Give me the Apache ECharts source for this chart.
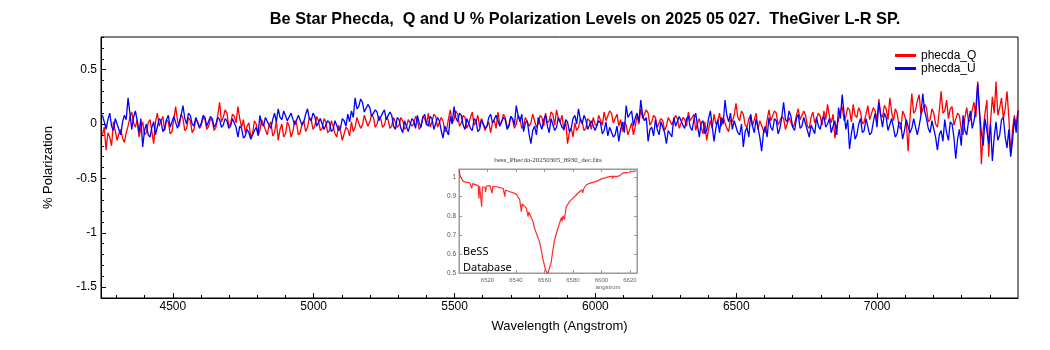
<!DOCTYPE html>
<html>
<head>
<meta charset="utf-8">
<script src="https://cdn.jsdelivr.net/npm/echarts@6/dist/echarts.min.js"></script>
<style>html,body{margin:0;padding:0;background:#fff}#c{width:1050px;height:350px}</style>
</head>
<body>
<div id="c"></div>
<script>
// ---- main data: Q and U polarization (%), uniform wavelength grid ----
const lambdaStart = 4250;
const lambdaStep = 6.5;
const phecdaQ = [
-0.10,-0.03,-0.24,-0.08,-0.12,-0.20,0.02,-0.06,-0.15,-0.09,-0.05,-0.13,-0.17,-0.08,-0.02,0.06,0.11,0.01,-0.03,0.04,
-0.12,-0.04,0.02,-0.10,-0.08,0.01,0.04,-0.07,-0.18,0.02,0.10,-0.02,0.03,0.07,-0.06,0.04,0.02,-0.09,-0.07,0.05,
0.16,0.03,-0.02,0.09,0.05,-0.06,-0.04,0.06,0.03,-0.08,-0.05,0.04,0.02,-0.04,-0.01,0.06,0.04,-0.05,-0.02,0.05,
0.03,-0.06,-0.03,0.08,0.20,0.02,0.06,0.13,0.10,-0.02,0.00,0.09,0.07,0.01,0.16,0.05,-0.03,0.04,-0.08,-0.02,
0.01,-0.12,-0.09,0.03,0.00,-0.11,-0.06,0.04,0.03,-0.05,-0.10,-0.01,0.02,-0.11,-0.08,0.03,-0.15,-0.05,0.00,-0.12,
-0.09,0.02,-0.02,-0.12,-0.07,0.03,0.01,-0.10,-0.08,0.00,0.03,-0.07,-0.03,0.06,0.04,-0.05,-0.02,0.07,0.03,-0.06,
-0.04,0.05,0.02,-0.08,-0.06,0.03,-0.02,-0.09,-0.12,-0.01,-0.06,-0.15,-0.14,-0.03,-0.05,-0.11,0.02,-0.07,-0.03,0.06,
0.05,-0.04,-0.01,0.08,0.07,-0.02,0.02,0.09,0.06,-0.03,0.00,0.07,0.05,-0.03,-0.01,0.06,0.04,-0.04,-0.02,0.06,
0.05,-0.03,-0.01,0.06,0.03,-0.05,-0.03,0.04,0.05,-0.02,0.00,0.07,0.04,-0.05,-0.02,0.07,0.05,-0.01,0.10,-0.03,
0.02,0.09,0.07,-0.03,-0.04,0.06,0.03,-0.07,-0.05,0.05,0.13,0.01,0.04,0.12,0.09,-0.02,0.01,0.08,0.06,-0.04,
0.00,0.06,0.11,-0.01,0.02,0.08,-0.03,0.05,0.04,-0.06,-0.05,0.02,-0.08,0.01,0.03,-0.04,0.11,0.00,0.02,0.09,
0.06,-0.03,-0.01,0.07,0.04,-0.04,0.00,0.08,0.05,-0.04,-0.02,0.06,0.07,-0.02,0.01,0.09,0.08,-0.03,0.00,0.08,
0.06,-0.02,0.10,0.01,0.03,0.11,0.09,-0.01,0.13,0.05,0.02,0.08,-0.06,0.03,-0.18,-0.08,-0.04,-0.12,0.01,-0.06,
-0.03,0.05,0.02,-0.06,-0.04,0.05,0.03,-0.05,0.06,0.00,-0.02,0.08,0.07,-0.01,0.11,0.03,0.04,0.12,0.10,0.01,
0.05,0.09,-0.02,0.04,-0.07,0.02,-0.01,-0.10,-0.09,0.01,-0.10,-0.02,0.08,0.00,0.14,0.05,0.04,0.13,0.10,-0.01,
0.02,0.08,0.06,-0.03,-0.04,0.05,0.03,-0.06,-0.02,0.06,0.07,-0.01,0.00,0.08,0.05,-0.04,-0.03,0.06,0.04,-0.02,
0.11,0.03,0.02,0.09,-0.06,0.01,0.05,-0.03,-0.09,0.02,-0.15,-0.05,0.03,-0.04,0.09,0.00,0.02,0.10,-0.02,0.06,
0.05,-0.04,-0.07,0.04,0.02,0.08,0.19,0.06,0.03,0.12,0.09,-0.01,-0.03,0.05,0.08,-0.02,0.04,0.10,-0.05,0.03,
0.02,-0.06,-0.08,0.04,0.13,0.03,0.04,0.12,0.10,-0.01,-0.02,0.07,0.05,-0.05,-0.04,0.06,0.06,-0.03,0.00,0.08,
0.14,0.04,0.03,0.12,0.08,-0.02,-0.04,0.06,0.11,0.01,0.02,0.10,0.07,-0.01,0.12,0.04,0.18,0.07,0.01,0.09,
-0.13,-0.02,0.04,0.12,0.16,0.03,0.07,0.15,0.13,0.02,0.18,0.08,0.06,0.15,0.11,0.00,0.02,0.09,0.17,0.04,
0.05,0.15,0.12,0.03,0.23,0.09,0.06,0.17,0.14,0.04,0.24,0.11,0.03,0.14,0.10,-0.02,-0.05,0.12,0.08,0.02,
-0.25,0.05,0.28,0.10,0.12,0.21,0.27,0.09,0.08,0.18,0.15,0.02,0.04,0.14,0.10,0.00,-0.03,0.12,0.30,0.10,
0.12,0.22,0.05,0.14,0.16,-0.01,-0.02,0.10,0.08,-0.05,-0.10,0.06,0.15,0.02,0.04,0.13,0.20,0.06,0.39,0.12,
-0.37,-0.05,0.10,0.22,-0.30,0.02,0.25,0.10,0.39,0.08,0.15,0.24,0.05,0.14,0.30,0.06,-0.28,-0.05,0.08,-0.02,0.13
];
const phecdaU = [
0.08,0.02,-0.05,0.04,0.10,-0.02,-0.06,0.05,0.06,-0.05,-0.10,0.02,0.08,0.04,0.24,0.10,-0.05,0.06,0.12,0.03,
-0.08,0.05,-0.21,-0.06,0.00,-0.10,-0.12,-0.03,0.02,-0.10,-0.09,0.05,0.03,-0.07,-0.04,0.04,0.08,-0.03,-0.02,0.07,
0.06,-0.04,-0.05,0.08,0.17,0.05,0.00,0.10,0.08,0.00,-0.02,0.06,0.07,-0.03,0.01,0.08,0.06,-0.02,-0.01,0.07,
0.05,-0.03,0.00,0.06,0.04,-0.03,-0.01,0.05,0.03,-0.04,-0.02,0.05,0.04,-0.03,-0.12,-0.02,-0.04,-0.13,-0.11,-0.05,
-0.08,-0.14,-0.13,-0.06,-0.03,-0.10,0.08,0.00,-0.02,0.06,0.07,-0.01,-0.04,0.04,0.10,0.02,0.14,0.06,0.04,0.12,
0.11,0.03,0.02,0.10,0.09,-0.01,0.00,0.08,0.07,-0.01,0.02,0.09,0.14,0.05,0.03,0.10,0.07,-0.02,-0.03,0.05,
0.04,-0.05,-0.06,0.03,0.01,-0.07,-0.05,0.03,0.02,-0.06,-0.04,0.05,0.03,-0.02,0.09,0.02,0.12,0.06,0.24,0.14,
0.16,0.23,0.20,0.11,0.10,0.18,0.15,0.07,0.06,0.13,0.11,0.03,0.02,0.10,0.13,0.04,0.03,0.11,0.08,-0.02,
-0.05,0.06,0.04,-0.04,-0.08,0.03,0.02,-0.07,-0.06,0.05,0.03,-0.04,0.08,0.01,-0.03,0.06,0.09,0.00,-0.02,0.07,
0.05,-0.05,-0.04,0.06,0.03,-0.06,-0.13,-0.02,-0.02,-0.10,0.07,0.00,0.16,0.06,0.02,0.10,0.08,-0.01,-0.05,0.05,
0.04,-0.04,-0.06,0.05,0.03,-0.07,-0.05,0.04,0.05,-0.04,-0.02,0.06,0.09,0.01,0.00,0.08,0.07,-0.02,-0.03,0.06,
0.04,-0.05,-0.02,0.07,0.05,-0.01,0.17,0.08,0.02,0.09,-0.07,0.01,0.03,-0.09,-0.18,-0.06,-0.02,-0.10,0.06,0.00,
-0.05,0.04,0.08,-0.02,-0.08,0.05,0.04,-0.06,-0.03,0.06,0.06,-0.03,-0.05,0.04,0.02,-0.07,-0.04,0.05,0.08,0.00,
0.14,0.04,0.00,0.08,0.04,-0.05,-0.06,0.03,0.02,-0.06,-0.07,0.03,0.01,-0.09,-0.06,0.02,-0.11,-0.03,-0.04,-0.12,
-0.10,-0.02,-0.16,-0.05,0.02,-0.08,0.17,0.06,0.05,0.12,-0.02,0.06,0.10,0.02,0.22,0.08,0.03,0.06,-0.16,-0.05,
-0.03,-0.11,0.04,-0.05,-0.10,0.02,0.02,-0.08,-0.18,-0.06,-0.05,-0.12,0.06,-0.02,-0.03,0.07,0.08,-0.01,-0.04,0.05,
0.07,-0.03,-0.06,0.04,0.10,-0.02,-0.12,0.01,0.03,-0.09,-0.06,0.05,0.12,-0.02,-0.16,-0.04,0.04,-0.08,0.06,0.00,
0.22,0.08,0.02,0.10,-0.05,0.03,0.04,-0.08,-0.10,0.00,-0.21,-0.07,-0.03,-0.12,0.09,-0.02,-0.08,0.05,0.04,-0.12,
-0.25,-0.08,-0.02,-0.12,0.06,-0.03,-0.06,0.05,0.03,-0.09,-0.04,0.06,0.20,0.04,0.02,0.12,0.07,-0.03,-0.06,0.05,
0.09,-0.04,-0.02,0.06,0.05,-0.06,-0.12,-0.01,0.00,-0.09,0.06,-0.02,-0.05,0.04,0.07,-0.03,0.00,0.05,-0.08,-0.02,
0.03,-0.10,0.15,0.05,0.27,0.10,-0.05,0.04,-0.23,-0.09,0.01,-0.14,-0.10,0.00,0.05,-0.08,-0.06,0.05,0.04,-0.10,
-0.08,0.02,0.10,-0.03,0.20,0.08,-0.03,0.10,0.06,-0.06,-0.05,0.05,0.04,-0.12,-0.09,0.02,0.00,-0.14,-0.06,0.04,
0.03,-0.08,-0.04,0.05,0.06,-0.10,-0.02,0.08,0.28,0.12,0.05,-0.04,-0.08,0.03,0.02,-0.12,-0.24,-0.10,-0.06,-0.16,
0.04,-0.08,-0.15,0.02,0.00,-0.12,-0.32,-0.14,-0.05,-0.20,0.08,-0.06,-0.10,0.03,0.12,-0.04,0.03,0.15,0.37,0.10,
-0.08,-0.20,0.05,-0.06,-0.18,0.00,-0.34,-0.12,0.02,-0.15,-0.10,0.04,0.06,-0.12,-0.22,-0.05,-0.30,-0.16,0.05,-0.08,0.12
];
// ---- tick labels ----
const xMajorTicks = [4500, 5000, 5500, 6000, 6500, 7000];
const xMinorTicks = [4300,4400,4500,4600,4700,4800,4900,5000,5100,5200,5300,5400,5500,5600,5700,5800,5900,6000,6100,6200,6300,6400,6500,6600,6700,6800,6900,7000,7100,7200,7300,7400];
const yMajorTicks = [-1.5, -1, -0.5, 0, 0.5];
// ---- inset (BeSS spectrum) ----
const insetWave = [6500,6501,6503,6505,6507.5,6508.5,6509,6509.5,6512,6513.5,6514,6514.5,6515.3,6515.9,6516.5,6517.3,6518.3,6518.7,6519.2,6521.7,6522.9,6523.3,6523.7,6526.3,6528.7,6531,6531.8,6532.2,6532.6,6535.7,6538,6540.3,6542.6,6543.3,6543.8,6544.3,6545.5,6547.3,6548,6548.5,6549,6550.5,6552,6552.7,6553.1,6553.6,6554.3,6556.6,6558.9,6560.8,6562.4,6563.6,6564.8,6565.9,6567.1,6568.7,6570.6,6571.8,6572.4,6573,6574,6575.3,6577.6,6579.9,6582.3,6584.6,6586.3,6586.9,6587.5,6589.3,6591.6,6593.9,6596.2,6598.6,6600.9,6603.2,6605.5,6607.5,6607.9,6608.3,6610.2,6612.5,6614.9,6617.2,6619.5,6621.9,6624.2];
const insetFlux = [1.04,1.005,0.98,0.976,0.972,0.968,0.944,0.968,0.962,0.958,0.891,0.955,0.952,0.847,0.952,0.95,0.948,0.924,0.956,0.958,0.954,0.918,0.953,0.952,0.947,0.943,0.94,0.9,0.935,0.926,0.921,0.912,0.885,0.88,0.821,0.862,0.856,0.84,0.832,0.795,0.82,0.795,0.768,0.76,0.733,0.74,0.725,0.663,0.575,0.514,0.497,0.502,0.558,0.619,0.672,0.716,0.76,0.79,0.77,0.8,0.78,0.847,0.874,0.891,0.909,0.926,0.935,0.92,0.94,0.961,0.97,0.975,0.979,0.988,0.996,1.0,1.005,1.007,0.995,1.008,1.005,1.009,1.023,1.026,1.028,1.032,1.035];
const insetYTicks = [0.5, 0.6, 0.7, 0.8, 0.9, 1.0];

const qData = phecdaQ.map((v, i) => [lambdaStart + i * lambdaStep, v]);
const uData = phecdaU.map((v, i) => [lambdaStart + i * lambdaStep, v]);
const insetData = insetWave.map((w, i) => [w, insetFlux[i]]);

const FONT = "'Liberation Sans', Arial, sans-serif";
const chart = echarts.init(document.getElementById('c'), null, {renderer: 'canvas'});
const option = {
  animation: false,
  backgroundColor: '#ffffff',
  graphic: [
    {type: 'text', z: 50, x: 585, y: 20,
     style: {text: 'Be Star Phecda,  Q and U % Polarization Levels on 2025 05 027.  TheGiver L-R SP.',
             font: "bold 16.3px 'Liberation Sans Narrow', 'Liberation Sans', Arial, sans-serif",
             fill: '#000', textAlign: 'center', textVerticalAlign: 'middle'}},
    {type: 'rect', z: 20, shape: {x: 442, y: 153, width: 203, height: 138}, style: {fill: '#ffffff'}},
    {type: 'text', z: 40, x: 548, y: 160,
     style: {text: 'bess_Phecda-20250305_8930_dec.fits', font: "7px 'Liberation Serif', serif", fill: '#333', textAlign: 'center', textVerticalAlign: 'middle'}},
    {type: 'text', z: 40, x: 608, y: 287,
     style: {text: 'angstrom', font: "6px 'Liberation Sans', sans-serif", fill: '#666', textAlign: 'center', textVerticalAlign: 'middle'}},
    {type: 'text', z: 40, x: 463, y: 252,
     style: {text: 'BeSS', font: "11px 'Noto Sans', sans-serif", fill: '#000', textAlign: 'left', textVerticalAlign: 'middle'}},
    {type: 'text', z: 40, x: 463, y: 268,
     style: {text: 'Database', font: "11px 'Noto Sans', sans-serif", fill: '#000', textAlign: 'left', textVerticalAlign: 'middle'}}
  ],
  legend: {
    data: ['phecda_Q', 'phecda_U'], orient: 'vertical', left: 890, top: 44,
    icon: 'rect', itemWidth: 21, itemHeight: 3, itemGap: 0,
    textStyle: {fontFamily: FONT, fontSize: 12, color: '#000', lineHeight: 13}
  },
  grid: [
    {left: 101, top: 37, width: 917, height: 261, show: true, borderColor: '#000', borderWidth: 1, backgroundColor: 'transparent'},
    {left: 459, top: 169, width: 178, height: 104, show: true, borderColor: '#999', borderWidth: 1, backgroundColor: 'transparent', z: 30}
  ],
  xAxis: [
    {type: 'value', gridIndex: 0, min: 4245, max: 7500, position: 'bottom',
     name: 'Wavelength (Angstrom)', nameLocation: 'middle', nameGap: 22,
     nameTextStyle: {fontFamily: FONT, fontSize: 13, color: '#000'},
     axisLine: {onZero: false, lineStyle: {color: '#000'}},
     axisTick: {inside: true, length: 5, customValues: xMajorTicks, lineStyle: {color: '#000'}},
     axisLabel: {customValues: xMajorTicks, fontFamily: FONT, fontSize: 12, color: '#000', margin: 3,
                 formatter: v => String(v)},
     splitLine: {show: false}},
    {type: 'value', gridIndex: 0, min: 4245, max: 7500, position: 'bottom',
     axisLine: {show: false, onZero: false},
     axisTick: {inside: true, length: 3, customValues: xMinorTicks, lineStyle: {color: '#000'}},
     axisLabel: {show: false}, splitLine: {show: false}},
    {type: 'value', gridIndex: 1, min: 6500, max: 6625, interval: 20, position: 'bottom', z: 35,
     axisLine: {onZero: false, lineStyle: {color: '#999'}},
     axisTick: {inside: true, length: 3, lineStyle: {color: '#999'}},
     axisLabel: {showMinLabel: false, fontFamily: FONT, fontSize: 6, color: '#666', margin: 4,
                 formatter: v => String(v)},
     splitLine: {show: false}},
    {type: 'value', gridIndex: 1, min: 6500, max: 6625, interval: 20, position: 'top', z: 35,
     axisLine: {onZero: false, lineStyle: {color: '#999'}},
     axisTick: {inside: true, length: 3, lineStyle: {color: '#999'}},
     axisLabel: {show: false}, splitLine: {show: false}}
  ],
  yAxis: [
    {type: 'value', gridIndex: 0, min: -1.6, max: 0.8, position: 'left',
     name: '% Polarization', nameLocation: 'middle', nameGap: 46,
     nameTextStyle: {fontFamily: FONT, fontSize: 13, color: '#000'},
     axisLine: {onZero: false, lineStyle: {color: '#000'}},
     axisTick: {inside: true, length: 5, customValues: yMajorTicks, lineStyle: {color: '#000'}},
     axisLabel: {customValues: yMajorTicks, fontFamily: FONT, fontSize: 12, color: '#000', margin: 4,
                 formatter: v => String(v)},
     splitLine: {show: false}},
    {type: 'value', gridIndex: 0, min: -1.6, max: 0.8, interval: 0.1, position: 'left',
     axisLine: {show: false, onZero: false},
     axisTick: {inside: true, length: 3, lineStyle: {color: '#000'}},
     axisLabel: {show: false}, splitLine: {show: false}},
    {type: 'value', gridIndex: 1, min: 0.5, max: 1.045, position: 'left', z: 35,
     axisLine: {onZero: false, lineStyle: {color: '#999'}},
     axisTick: {inside: true, length: 3, customValues: insetYTicks, lineStyle: {color: '#999'}},
     axisLabel: {customValues: insetYTicks, fontFamily: FONT, fontSize: 6.5, color: '#555', margin: 3,
                 formatter: v => (Math.abs(v - 1) < 1e-9 ? '1' : v.toFixed(1))},
     splitLine: {show: false}},
    {type: 'value', gridIndex: 1, min: 0.5, max: 1.045, position: 'right', z: 35,
     axisLine: {onZero: false, lineStyle: {color: '#999'}},
     axisTick: {inside: true, length: 3, customValues: insetYTicks, lineStyle: {color: '#999'}},
     axisLabel: {show: false}, splitLine: {show: false}}
  ],
  series: [
    {name: 'phecda_Q', type: 'line', xAxisIndex: 0, yAxisIndex: 0, data: qData,
     showSymbol: false, symbol: 'none', lineStyle: {color: '#ff0000', width: 1.3}, itemStyle: {color: '#ff0000'}, z: 2},
    {name: 'phecda_U', type: 'line', xAxisIndex: 0, yAxisIndex: 0, data: uData,
     showSymbol: false, symbol: 'none', lineStyle: {color: '#0000ff', width: 1.3}, itemStyle: {color: '#0000ff'}, z: 3},
    {name: 'bess', type: 'line', xAxisIndex: 2, yAxisIndex: 2, data: insetData,
     showSymbol: false, symbol: 'none', lineStyle: {color: '#ff2a2a', width: 1.2}, z: 36}
  ]
};
chart.setOption(option);
</script>
</body>
</html>
